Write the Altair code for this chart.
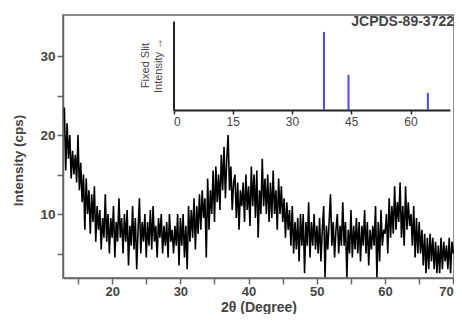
import altair as alt
import pandas as pd

# ---- data ----
two_theta_start = 13.0
two_theta_step = 0.2
intensity = [
    23.5, 15.5, 21.5, 17, 20,
    14.5, 18, 15, 17.5, 14,
    20, 13, 16.5, 11.5, 15,
    8, 14.5, 10, 13, 7.5,
    12.5, 9, 13.5, 6.5, 11,
    8, 10.5, 5.5, 9.5, 7,
    12.5, 6.5, 10, 5, 9.5,
    7, 11, 4.5, 9, 6.5,
    12, 7, 9.5, 5, 10,
    6.5, 10.5, 3.5, 8.5, 6,
    11, 5.5, 9.5, 3, 8,
    12, 5, 9, 6.5, 10,
    4.5, 9, 6, 10.5, 5.5,
    11, 6.5, 8.5, 4.5, 9.5,
    7, 10, 5, 8.5, 6,
    9, 4.5, 10, 6.5, 8,
    5, 8.5, 6, 10, 3.5,
    9.5, 6, 10, 4.5, 8.5,
    3, 11, 6.5, 10.5, 7,
    12, 5.5, 11, 7.5, 12.5,
    8, 13, 9.5, 12, 4.5,
    14.5, 8, 13, 10, 15.5,
    9, 16, 11.5, 15, 10.5,
    17.5, 13, 18.5, 12, 17,
    20, 13, 16, 10.5, 14,
    15, 9.5, 14, 8, 13,
    11, 14, 9, 15, 10.5,
    13.5, 8.5, 16, 11, 15,
    9.5, 15.5, 7, 13, 10,
    17, 11, 14.5, 10, 15,
    9, 14, 9.5, 15.5, 10,
    13, 8, 14.5, 10, 13.5,
    9, 12, 7, 11.5, 8,
    10.5, 6, 11, 5, 9,
    5.5, 9.5, 4, 10, 6,
    10, 2.5, 9, 6, 11.5,
    4.5, 9, 6, 10, 5.5,
    8.5, 5, 9.5, 4, 8,
    11, 2, 8.5, 5.5, 9,
    12.5, 6, 9, 4.5, 8,
    10, 5, 8.5, 6, 11.5,
    6, 9, 2, 8, 5,
    10.5, 4.5, 8.5, 5.5, 9.5,
    5, 9, 4, 8.5, 6,
    10.5, 5, 9, 3.5, 8,
    5.5, 8.5, 6, 11, 2,
    9, 4, 10.5, 6, 8,
    7.5, 10, 5, 12, 7,
    11, 7.5, 13.5, 8, 11.5,
    9, 14, 7, 11, 6,
    13.5, 8, 11.5, 8.5, 10,
    6, 11, 4.5, 9.5, 5,
    9, 5, 8, 3.5, 7.5,
    2.5, 7, 3, 7.5, 4,
    7, 3, 6.5, 2.5, 6,
    2.5, 7, 3, 6.5, 4,
    6, 3, 7, 2.5, 6.5,
    5,
]
two_theta = [round(two_theta_start + i * two_theta_step, 2) for i in range(len(intensity))]

ref_pos = [38.1, 44.3, 64.4]
ref_int = [100, 45, 22]

x_ticks = [15, 20, 25, 30, 35, 40, 45, 50, 55, 60, 65, 70]
y_ticks = [5, 10, 15, 20, 25, 30]
inset_x_ticks = [0, 15, 30, 45, 60]

card_name = "JCPDS-89-3722"
inset_title = ["Fixed  Slit", "Intensity \u2192"]

df = pd.DataFrame({"tt": two_theta, "I": intensity})
ref = pd.DataFrame({"pos": ref_pos, "ri": ref_int})
lab = pd.DataFrame({"t": [card_name]})

FONT = "Liberation Sans"
GRAY = "#444444"

main = alt.Chart(df).mark_line(color="black", strokeWidth=1.6, clip=True).encode(
    x=alt.X("tt:Q", scale=alt.Scale(domain=[12.8, 70.1], nice=False, zero=False),
            axis=alt.Axis(title="2\u03b8 (Degree)", values=x_ticks,
                          labelExpr="datum.value % 10 == 0 ? datum.label : ''",
                          tickSize=6, labelPadding=1, labelFontSize=13, grid=False,
                          titleY=29, titleBaseline="middle", titleFontSize=14)),
    y=alt.Y("I:Q", scale=alt.Scale(domain=[1.9, 35.2], nice=False, zero=False),
            axis=alt.Axis(title="Intensity (cps)", values=y_ticks,
                          labelExpr="datum.value % 10 == 0 ? datum.label : ''",
                          tickSize=6, grid=False, titleX=-45, titleY=145,
                          titleAngle=270, titleBaseline="middle", titleFontSize=13.5)),
)

inset = alt.Chart(ref).mark_rule(color="#4a4af0", strokeWidth=2).encode(
    x=alt.X("pos:Q", scale=alt.Scale(domain=[0, 70], range=[110.5, 387], nice=False),
            axis=alt.Axis(orient="bottom", offset=-168, title=None, values=inset_x_ticks,
                          tickSize=4, grid=False, labelFontSize=12, labelFontWeight="normal",
                          domainColor="#222", domainWidth=2, tickColor="#222", tickWidth=1.5)),
    y=alt.Y("ri:Q", scale=alt.Scale(domain=[0, 114], range=[95, 6], nice=False),
            axis=alt.Axis(orient="left", offset=-110.5, title=inset_title, ticks=False,
                          labels=False, grid=False, domainColor="#222", domainWidth=2,
                          titleFontSize=11, titleFontWeight="normal", titleColor="#444",
                          titleX=-28.5, titleY=50, titleAngle=270, titleAlign="center",
                          titleBaseline="middle")),
    y2=alt.datum(0),
)

text = alt.Chart(lab).mark_text(align="right", baseline="middle", fontSize=14,
                                font=FONT, color="#444", fontWeight="bold").encode(
    x=alt.value(391), y=alt.value(7), text="t:N"
)

chart = alt.layer(main, inset, text).resolve_scale(x="independent", y="independent").properties(
    width=391, height=263,
    autosize=alt.AutoSizeParams(type="none"),
    padding={"left": 55, "top": 7, "right": 0, "bottom": 36},
).configure_view(stroke="#666", strokeWidth=1.5).configure_axis(
    labelFont=FONT, titleFont=FONT, labelFontSize=13.5, titleFontSize=14,
    labelColor=GRAY, titleColor=GRAY, titleFontWeight="bold", labelFontWeight="bold",
    domainColor="#666", domainWidth=1.5, tickColor="#666", tickWidth=1.5,
)

chart.save("out.html", embed_options={"renderer": "svg", "actions": False})
